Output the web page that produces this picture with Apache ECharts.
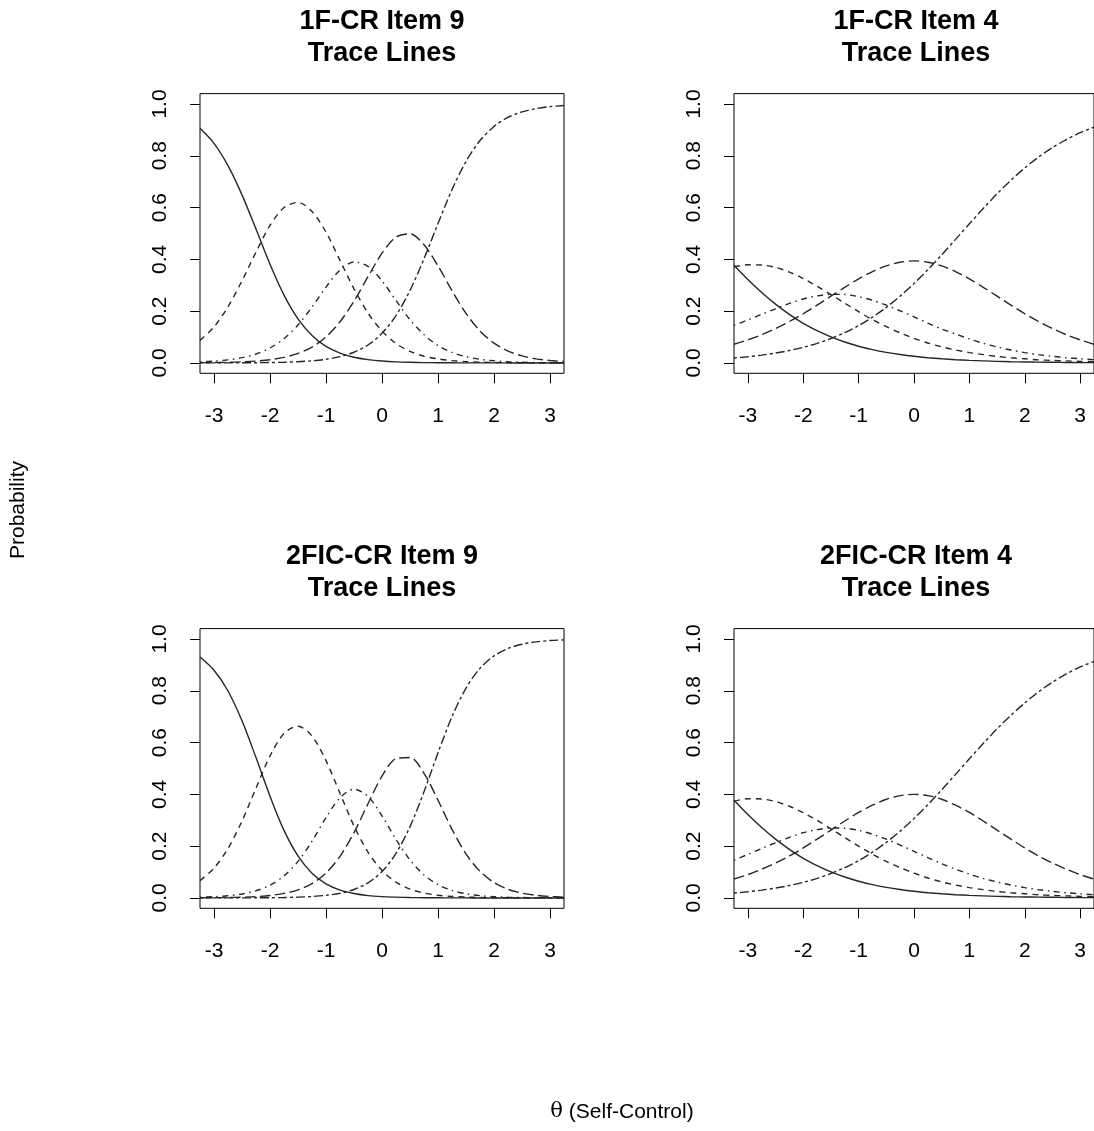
<!DOCTYPE html>
<html>
<head>
<meta charset="utf-8">
<script src="https://cdn.jsdelivr.net/npm/echarts@6/dist/echarts.min.js"></script>
<style>
html,body{margin:0;padding:0;background:#fff;}
#chart{width:1094px;height:1131px;}
</style>
</head>
<body>
<div id="chart"></div>
<script>
// ---- data ----
const theta = [-3.25,-3,-2.75,-2.5,-2.25,-2,-1.75,-1.5,-1.25,-1,-0.75,-0.5,-0.25,0,0.25,0.5,0.75,1,1.25,1.5,1.75,2,2.25,2.5,2.75,3,3.25];
const xTicks = [-3,-2,-1,0,1,2,3];
const yTicks = [0,0.2,0.4,0.6,0.8,1.0];
const panelTitles = ['1F-CR Item 9','1F-CR Item 4','2FIC-CR Item 9','2FIC-CR Item 4'];
const subTitle = 'Trace Lines';
const yTitle = 'Probability';
const xTitle = '(Self-Control)';

// Panel 1: 1F-CR Item 9
const f1i9_c1 = [0.906,0.848,0.762,0.649,0.517,0.381,0.262,0.170,0.106,0.064,0.038,0.022,0.013,0.0075,0.0043,0.0025,0.0014,0.0008,0.0005,0.0003,0.0002,0.0001,0.0001,0,0,0,0];
const f1i9_c2 = [0.087,0.139,0.217,0.317,0.428,0.531,0.600,0.620,0.585,0.505,0.396,0.286,0.193,0.123,0.075,0.045,0.026,0.0156,0.0091,0.0052,0.0029,0.0018,0.001,0.0006,0.0003,0.0002,0.0001];
const f1i9_c3 = [0.0041,0.0069,0.012,0.0203,0.0344,0.0576,0.0937,0.1465,0.216,0.293,0.359,0.390,0.373,0.317,0.241,0.167,0.109,0.0676,0.0407,0.0241,0.0141,0.0082,0.0047,0.0028,0.0015,0.0009,0.0005];
const f1i9_c4 = [0.0008,0.0014,0.0024,0.0042,0.0073,0.0125,0.0215,0.0366,0.0612,0.1003,0.1589,0.2384,0.3329,0.4240,0.4860,0.4983,0.4564,0.3748,0.2789,0.1914,0.1234,0.0764,0.0460,0.0271,0.0159,0.0092,0.0053];
const f1i9_c5 = [0.0001,0.0002,0.0003,0.0005,0.0009,0.0016,0.0027,0.0048,0.0082,0.0141,0.0242,0.0413,0.0694,0.1144,0.1831,0.2797,0.4023,0.5384,0.6691,0.7780,0.8587,0.9132,0.9480,0.9694,0.9821,0.9896,0.9940];

// Panel 2: 1F-CR Item 4
const f1i4_c1 = [0.377,0.322,0.272,0.227,0.1875,0.153,0.125,0.1006,0.0808,0.0646,0.0515,0.0409,0.0324,0.0256,0.0203,0.016,0.0126,0.0099,0.0078,0.0061,0.0048,0.0038,0.003,0.0024,0.0018,0.0014,0.0011];
const f1i4_c2 = [0.371,0.379,0.378,0.369,0.351,0.326,0.296,0.264,0.231,0.198,0.167,0.140,0.116,0.095,0.077,0.062,0.050,0.040,0.032,0.025,0.020,0.016,0.012,0.0097,0.0078,0.0061,0.0048];
const f1i4_c3 = [0.145,0.166,0.188,0.209,0.230,0.247,0.259,0.265,0.264,0.256,0.242,0.223,0.201,0.178,0.154,0.131,0.1118,0.0926,0.0759,0.0618,0.0498,0.040,0.032,0.0255,0.0202,0.0161,0.0127];
const f1i4_c4 = [0.072,0.089,0.109,0.133,0.160,0.190,0.223,0.258,0.292,0.325,0.353,0.375,0.389,0.394,0.389,0.375,0.353,0.325,0.292,0.258,0.223,0.190,0.160,0.133,0.109,0.089,0.072];
const f1i4_c5 = [0.0189,0.0239,0.0302,0.0381,0.0480,0.0603,0.0755,0.0943,0.1169,0.1443,0.1767,0.2145,0.2580,0.3068,0.3603,0.4175,0.4771,0.5373,0.5965,0.6530,0.7055,0.7530,0.7951,0.8316,0.8627,0.8889,0.9106];

// Panel 3: 2FIC-CR Item 9
const f2i9_c1 = [0.930,0.879,0.799,0.684,0.542,0.393,0.261,0.162,0.095,0.054,0.030,0.017,0.009,0.005,0.003,0.0015,0.0008,0.0005,0.0002,0.0001,0,0,0,0,0,0,0];
const f2i9_c2 = [0.067,0.115,0.191,0.297,0.424,0.548,0.635,0.663,0.625,0.530,0.404,0.278,0.177,0.106,0.061,0.034,0.019,0.0105,0.0058,0.0032,0.0018,0.001,0.0005,0.0003,0.0002,0.0001,0.0001];
const f2i9_c3 = [0.0026,0.0047,0.0085,0.0154,0.0277,0.0491,0.085,0.141,0.219,0.310,0.387,0.420,0.392,0.317,0.226,0.1465,0.0887,0.0514,0.029,0.0161,0.0089,0.0049,0.0027,0.0015,0.0008,0.0004,0.0002];
const f2i9_c4 = [0.0005,0.0009,0.0016,0.0029,0.0052,0.0096,0.0174,0.0312,0.0554,0.0962,0.1606,0.2523,0.3637,0.4703,0.5382,0.5423,0.4812,0.3774,0.2650,0.1703,0.1026,0.0594,0.0335,0.0186,0.0102,0.0057,0.0031];
const f2i9_c5 = [0.00004,0.0001,0.0002,0.0003,0.0005,0.0009,0.0016,0.003,0.0055,0.0100,0.0181,0.0327,0.0582,0.1017,0.1718,0.2753,0.4102,0.5602,0.7000,0.8103,0.8867,0.9347,0.9633,0.9796,0.9888,0.9938,0.9966];

// Panel 4: 2FIC-CR Item 4
const f2i4_c1 = [0.377,0.322,0.272,0.227,0.1875,0.153,0.125,0.1006,0.0808,0.0646,0.0515,0.0409,0.0324,0.0256,0.0203,0.016,0.0126,0.0099,0.0078,0.0061,0.0048,0.0038,0.003,0.0024,0.0018,0.0014,0.0011];
const f2i4_c2 = [0.374,0.383,0.382,0.372,0.354,0.329,0.300,0.267,0.233,0.200,0.169,0.141,0.117,0.096,0.077,0.062,0.050,0.040,0.032,0.025,0.020,0.016,0.012,0.0098,0.0079,0.0061,0.0049];
const f2i4_c3 = [0.146,0.168,0.191,0.213,0.234,0.252,0.264,0.270,0.269,0.261,0.246,0.227,0.204,0.180,0.156,0.132,0.111,0.092,0.0755,0.0615,0.0496,0.0398,0.0318,0.0254,0.0201,0.016,0.0126];
const f2i4_c4 = [0.073,0.090,0.111,0.135,0.162,0.193,0.227,0.262,0.297,0.330,0.358,0.381,0.395,0.400,0.395,0.381,0.358,0.330,0.297,0.262,0.227,0.193,0.162,0.135,0.111,0.090,0.073];
const f2i4_c5 = [0.0189,0.0239,0.0302,0.0381,0.0480,0.0603,0.0755,0.0943,0.1169,0.1443,0.1767,0.2145,0.2580,0.3068,0.3603,0.4175,0.4771,0.5373,0.5965,0.6530,0.7055,0.7530,0.7960,0.8330,0.8650,0.8920,0.9130];

// ---- build the chart ----
const panels = [
  [f1i9_c1,f1i9_c2,f1i9_c3,f1i9_c4,f1i9_c5],
  [f1i4_c1,f1i4_c2,f1i4_c3,f1i4_c4,f1i4_c5],
  [f2i9_c1,f2i9_c2,f2i9_c3,f2i9_c4,f2i9_c5],
  [f2i4_c1,f2i4_c2,f2i4_c3,f2i4_c4,f2i4_c5]
];
const FONT = '"Liberation Sans", Arial, sans-serif';
const dashes = ['solid', [6,5], [1.5,4.5,6,4.5], [10.5,4.5], [3,3,9,3]];
const gridPos = [
  {left:200, top:93.6}, {left:734, top:93.6},
  {left:200, top:628.6}, {left:734, top:628.6}
];
const PW = 364, PH = 279.7;

const grid = gridPos.map(g => ({
  left: g.left, top: g.top, width: PW, height: PH,
  show: true, borderColor: '#000', borderWidth: 1, backgroundColor: 'transparent',
  containLabel: false
}));
const xAxis = gridPos.map((g, i) => ({
  type: 'value', gridIndex: i, min: -3.25, max: 3.25, position: 'bottom',
  axisLine: {show: false, onZero: false},
  splitLine: {show: false},
  axisTick: {show: true, length: 10, customValues: xTicks, lineStyle: {color: '#000', width: 1}},
  axisLabel: {customValues: xTicks, margin: 32, fontSize: 21, color: '#000', fontFamily: FONT}
}));
const yAxis = gridPos.map((g, i) => ({
  type: 'value', gridIndex: i, min: -0.04, max: 1.04, position: 'left',
  axisLine: {show: false, onZero: false},
  splitLine: {show: false},
  axisTick: {show: true, length: 10, customValues: yTicks, lineStyle: {color: '#000', width: 1}},
  axisLabel: {customValues: yTicks, margin: 29, fontSize: 21, color: '#000', fontFamily: FONT,
    rotate: 90, formatter: v => Number(v).toFixed(1)}
}));
const series = [];
panels.forEach((cats, p) => {
  cats.forEach((arr, k) => {
    series.push({
      type: 'line', xAxisIndex: p, yAxisIndex: p,
      data: theta.map((t, j) => [t, arr[j]]),
      showSymbol: false, symbol: 'none', smooth: 0.3, silent: true, clip: true,
      lineStyle: {color: '#262626', width: 1.4, type: dashes[k], cap: 'butt'}
    });
  });
});

const centers = [382, 916, 382, 916];
const titleY = [22, 22, 557, 557];
const graphic = [];
panelTitles.forEach((t, i) => {
  graphic.push({type: 'text', x: centers[i], y: titleY[i], silent: true,
    style: {text: t, font: 'bold 27px ' + FONT, fill: '#000', textAlign: 'center', textVerticalAlign: 'middle'}});
  graphic.push({type: 'text', x: centers[i], y: titleY[i] + 32, silent: true,
    style: {text: subTitle, font: 'bold 27px ' + FONT, fill: '#000', textAlign: 'center', textVerticalAlign: 'middle'}});
});
graphic.push({type: 'text', x: 18, y: 510, rotation: Math.PI / 2, silent: true,
  style: {text: yTitle, font: '21px ' + FONT, fill: '#000', textAlign: 'center', textVerticalAlign: 'middle'}});
graphic.push({type: 'text', x: 622, y: 1112, silent: true,
  style: {text: '{t|θ} ' + xTitle, font: '21px ' + FONT, fill: '#000', textAlign: 'center', textVerticalAlign: 'middle',
    rich: {t: {fontFamily: '"DejaVu Serif", serif', fontSize: 21, fill: '#000'}}}});

const chart = echarts.init(document.getElementById('chart'), null, {renderer: 'canvas'});
chart.setOption({
  animation: false,
  backgroundColor: '#fff',
  grid, xAxis, yAxis, series, graphic
});
</script>
</body>
</html>
